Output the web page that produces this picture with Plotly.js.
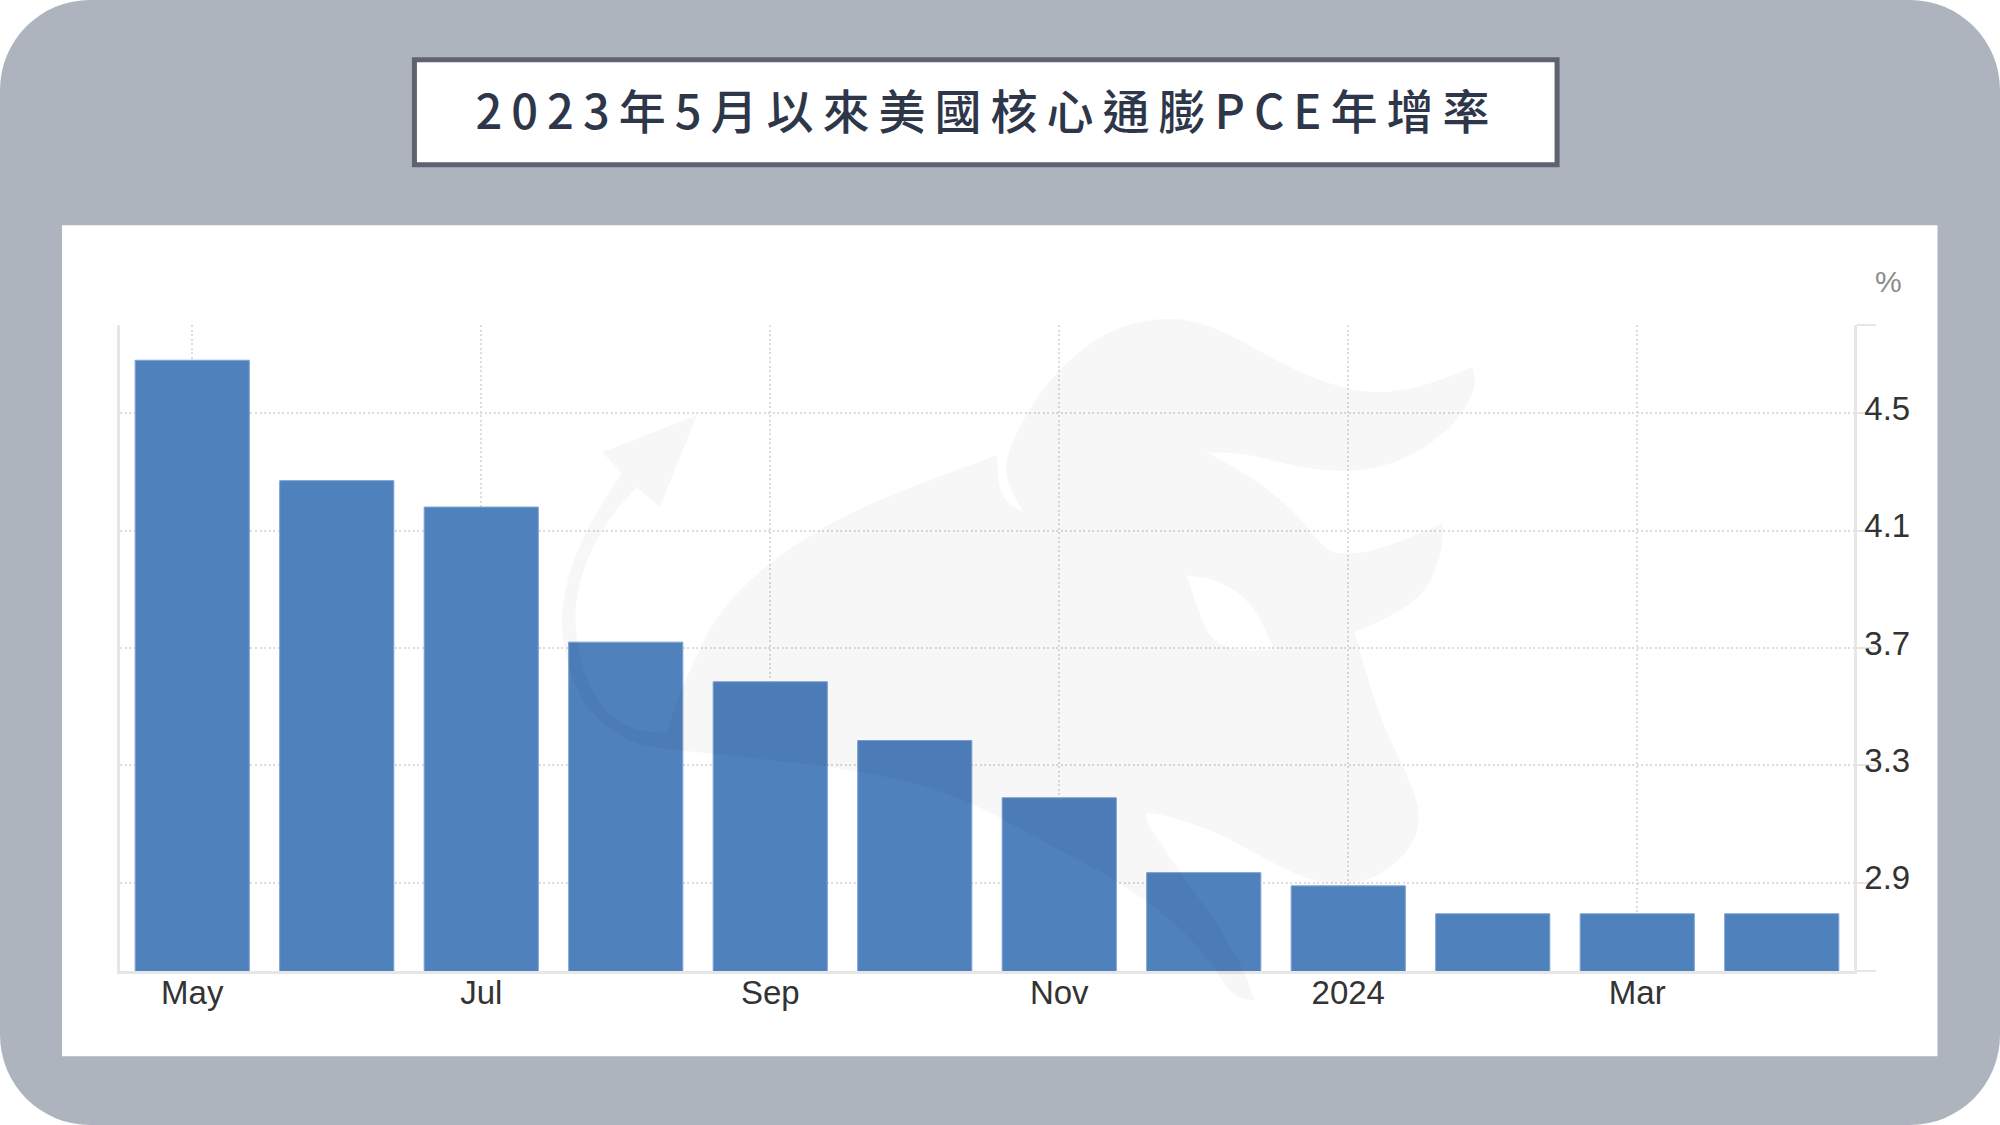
<!DOCTYPE html>
<html>
<head>
<meta charset="utf-8">
<title>美國核心通膨PCE年增率</title>
<script src="https://cdn.plot.ly/plotly-3.0.1.min.js"></script>
<style>
    html, body { margin: 0; padding: 0; background: #fff; }
    #card {
        position: absolute; left: 0; top: 0;
        width: 2000px; height: 1125px;
        background: #aeb4be;
        border-radius: 90px;
        overflow: hidden;
    }
    #chart { width: 2000px; height: 1125px; }
    #chart .gtitle { letter-spacing: 9px; }
</style>
</head>
<body>
<div id="card"><div id="chart"></div></div>
<script>
// ── Data ──
const months = ['May', 'Jun', 'Jul', 'Aug', 'Sep', 'Oct', 'Nov', 'Dec', '2024', 'Feb', 'Mar', 'Apr'];
const coreRate = [4.68, 4.27, 4.18, 3.72, 3.585, 3.385, 3.19, 2.935, 2.89, 2.795, 2.795, 2.795];
const monthTicks = ['May', 'Jul', 'Sep', 'Nov', '2024', 'Mar'];
const rateTicks = [2.6, 2.9, 3.3, 3.7, 4.1, 4.5, 4.8];
const rateLabels = ['', '2.9', '3.3', '3.7', '4.1', '4.5', ''];
const chartTitle = '2023年5月以來美國核心通膨PCE年增率';

// ── Layout helpers ──
const margin = { l: 120, r: 145.5, t: 324.7, b: 154.3, pad: 0 };
const plotW = 2000 - margin.l - margin.r;
const plotH = 1125 - margin.t - margin.b;
const paperX = (x) => (x - margin.l) / plotW;
const paperY = (y) => (1125 - margin.b - y) / plotH;

function rectShape(x0, y0, x1, y1, fill, line) {
    return {
        type: 'rect', xref: 'paper', yref: 'paper', layer: 'below',
        x0: paperX(x0), y0: paperY(y0), x1: paperX(x1), y1: paperY(y1),
        fillcolor: fill, line: line,
    };
}

// Watermark outline in page pixels, third element marks a sharp corner
const bullOutline = [
    [1173, 315], [1223, 330], [1263, 353], [1313, 378], [1363, 393], [1413, 390], [1473, 367, 1], [1477, 387],
    [1457, 423], [1413, 457], [1357, 473], [1297, 467], [1247, 453], [1207, 452, 1], [1253, 477], [1297, 513],
    [1320, 543], [1337, 555], [1380, 550], [1443, 523, 1], [1443, 550], [1427, 593], [1390, 617], [1355, 632, 1],
    [1360, 650], [1380, 717], [1407, 773], [1422, 813], [1413, 847], [1380, 877], [1343, 885], [1310, 880],
    [1273, 863], [1220, 833], [1173, 817], [1148, 812, 1], [1145, 820], [1177, 867], [1220, 927], [1243, 967],
    [1255, 1000, 1], [1233, 997], [1210, 960], [1173, 920], [1117, 880], [1060, 850], [955, 793], [859, 770],
    [750, 757], [677, 750], [627, 743], [587, 710], [567, 667], [560, 617], [570, 567], [593, 517],
    [622, 473, 1], [602, 452, 1], [697, 415, 1], [660, 507, 1], [637, 487, 1], [607, 520], [583, 567], [573, 617],
    [583, 673], [603, 710], [633, 730], [667, 733, 1], [677, 700], [690, 670], [717, 613], [763, 567],
    [817, 530], [883, 497], [997, 455, 1], [1000, 497], [1023, 512, 1], [1005, 477], [1008, 450], [1030, 407],
    [1060, 367], [1110, 328],
];
const bullEye = [
    [1187, 575, 1], [1203, 623], [1213, 640], [1233, 650], [1275, 650, 1], [1253, 603], [1220, 580],
];

// Quadratic segments through midpoints, doubled points keep their corner
function tracedPath(points) {
    const pts = [];
    for (const [x, y, sharp] of points) {
        pts.push([paperX(x), paperY(y)]);
        if (sharp) pts.push([paperX(x), paperY(y)]);
    }
    const mid = (a, b) => `${((a[0] + b[0]) / 2).toFixed(4)},${((a[1] + b[1]) / 2).toFixed(4)}`;
    let path = 'M' + mid(pts[pts.length - 1], pts[0]);
    pts.forEach((p, i) => {
        const next = pts[(i + 1) % pts.length];
        path += `Q${p[0].toFixed(4)},${p[1].toFixed(4)} ${mid(p, next)}`;
    });
    return path + 'Z';
}

const shapes = [
    rectShape(62, 225, 1938, 1056, '#ffffff', { width: 0 }),
    rectShape(414.5, 59.5, 1557.5, 164.5, '#ffffff', { color: '#5f6270', width: 5 }),
    {
        type: 'path', xref: 'paper', yref: 'paper', layer: 'above',
        path: tracedPath(bullOutline) + tracedPath(bullEye),
        fillcolor: 'rgba(0,0,0,0.03)', line: { width: 0 },
    },
];

// ── Chart ──
const axisFont = { family: '"Liberation Sans", Arial, sans-serif', size: 33, color: '#333333' };
const lineColor = '#e6e6e6';
const gridColor = '#dcdcdc';

Plotly.newPlot('chart', [{
    type: 'bar',
    x: months,
    y: coreRate,
    width: 0.79,
    marker: { color: '#4f81bd', line: { color: '#7ea3d3', width: 1 } },
    hoverinfo: 'x+y',
}], {
    width: 2000,
    height: 1125,
    margin: margin,
    paper_bgcolor: 'rgba(0,0,0,0)',
    plot_bgcolor: 'rgba(0,0,0,0)',
    showlegend: false,
    title: {
        text: chartTitle,
        x: 0.4935, xref: 'container', xanchor: 'center',
        y: 1 - 113 / 1125, yref: 'container', yanchor: 'middle',
        font: { family: '"Noto Sans CJK TC", sans-serif', size: 47, weight: 500, color: '#2e3649' },
    },
    xaxis: {
        type: 'category',
        categoryorder: 'array',
        categoryarray: months,
        range: [-0.5, 11.5],
        tickmode: 'array',
        tickvals: monthTicks,
        ticks: '',
        tickangle: 0,
        ticklabelstandoff: -9,
        tickfont: axisFont,
        showgrid: true,
        gridcolor: gridColor,
        gridwidth: 2,
        griddash: '2px,2.5px',
        showline: true,
        linecolor: lineColor,
        linewidth: 2.5,
        fixedrange: true,
    },
    yaxis: {
        side: 'right',
        range: [2.6, 4.8],
        tickmode: 'array',
        tickvals: rateTicks,
        ticktext: rateLabels,
        ticks: 'outside',
        ticklen: 19,
        tickwidth: 2,
        tickcolor: lineColor,
        ticklabelstandoff: -18,
        ticklabelshift: -5,
        tickfont: axisFont,
        showgrid: true,
        gridcolor: gridColor,
        gridwidth: 2,
        griddash: '2px,2.5px',
        zeroline: false,
        showline: true,
        mirror: true,
        linecolor: lineColor,
        linewidth: 2.5,
        fixedrange: true,
    },
    shapes: shapes,
    annotations: [{
        text: '%',
        xref: 'paper', yref: 'paper',
        x: paperX(1889), y: paperY(281),
        xanchor: 'center', yanchor: 'middle',
        showarrow: false,
        font: { family: '"Liberation Sans", Arial, sans-serif', size: 30, color: '#8c8c8c' },
    }],
}, { displayModeBar: false, responsive: false });
</script>
</body>
</html>
